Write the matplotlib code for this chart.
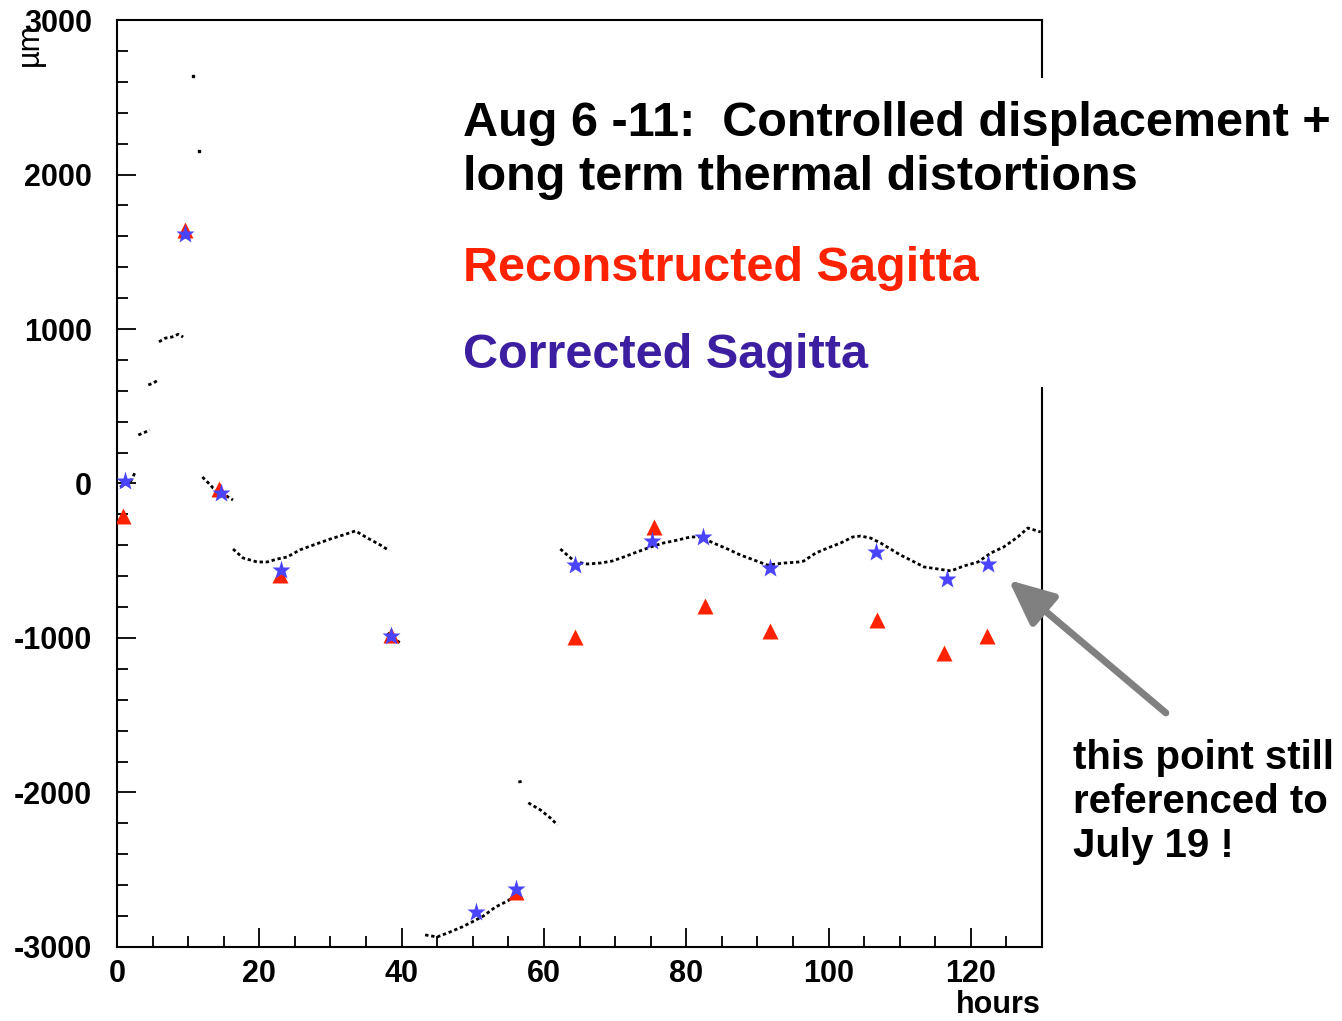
import numpy as np
import matplotlib.pyplot as plt
from matplotlib.patches import Rectangle
from matplotlib.ticker import MultipleLocator

plt.rcParams['font.family'] = ['Liberation Sans', 'DejaVu Sans']
plt.rcParams['axes.unicode_minus'] = False

# reconstructed sagitta (red triangles)
reco_h = [0.8, 9.6, 14.3, 22.9, 38.5, 56.1, 64.3, 75.4, 82.6, 91.8, 106.8, 116.2, 122.2]
reco_v = [-210, 1640, -36, -592, -980, -2644, -994, -281, -793, -955, -884, -1097, -987]

# corrected sagitta (blue stars)
corr_h = [1.1, 9.6, 14.6, 23.1, 38.5, 50.5, 56.1, 64.4, 75.2, 82.3, 91.7, 106.7, 116.6, 122.4]
corr_v = [16, 1613, -61, -560, -987, -2773, -2625, -528, -372, -346, -547, -443, -618, -521]

# continuous monitoring (black dots), one list per segment
segments = [
    ([0.4, 1.1, 1.8, 2.5], [-23, -10, 3, 68]),
    ([3.0, 3.7, 4.6], [314, 327, 346]),
    ([4.4, 5.1, 5.8], [638, 650, 670]),
    ([5.9, 6.8, 7.7, 8.6, 9.3], [917, 941, 948, 966, 948]),
    ([12.0, 12.7, 13.5, 14.8, 15.6, 16.3], [42, 10, -29, -61, -87, -107]),
    ([16.3, 17.7, 19.7, 21.1, 22.5, 23.9, 25.7, 27.6, 30.0, 31.8, 33.5, 35.2, 37.0, 38.1],
     [-424, -482, -508, -508, -489, -476, -430, -398, -359, -333, -307, -353, -398, -430]),
    ([38.0, 38.8, 39.8], [-968, -1000, -1032]),
    ([43.3, 45.0, 46.8, 48.5, 49.9, 51.5, 53.2, 54.9, 55.7],
     [-2922, -2935, -2903, -2870, -2838, -2799, -2741, -2702, -2676]),
    ([56.4, 57.2], [-1932, -1926]),
    ([57.8, 59.5, 60.9, 61.9], [-2067, -2113, -2165, -2210]),
    ([62.3, 64.4, 66.1, 67.9, 69.6, 71.2, 73.1, 75.0, 76.8, 78.8, 80.6, 82.0, 83.8, 85.8,
      87.6, 89.5, 91.4, 93.7, 95.8, 96.5, 98.2, 99.9, 101.7, 103.4, 104.5, 105.9, 107.3,
      108.7, 110.1, 111.5, 113.4, 115.3, 117.2, 119.0, 121.0, 122.8, 124.6, 126.6, 128.0, 129.8],
     [-424, -508, -521, -515, -502, -476, -443, -411, -385, -366, -346, -346, -385, -424,
      -463, -495, -528, -515, -508, -502, -450, -417, -385, -346, -340, -353, -385,
      -424, -463, -495, -540, -553, -566, -534, -508, -450, -411, -346, -288, -314]),
]
single_h = [10.7, 11.5]
single_v = [2637, 2152]

fig = plt.figure(figsize=(13.42, 10.21), dpi=100)
ax = fig.add_axes([0.0872, 0.0725, 0.6893, 0.9079])

for h, v in segments:
    ax.plot(h, v, color='black', lw=2.0, ls=(0, (1.2, 1.0)))
ax.plot(single_h, single_v, 's', color='black', ms=2)

ax.plot(reco_h, reco_v, '^', color='#ff2200', ms=11, mec='none', zorder=3)
ax.plot(corr_h, corr_v, '*', color='#4a44ff', ms=14, mec='none', zorder=4)

ax.set_xlim(0, 130)
ax.set_ylim(-3000, 3000)
ax.xaxis.set_major_locator(MultipleLocator(20))
ax.xaxis.set_minor_locator(MultipleLocator(5))
ax.yaxis.set_major_locator(MultipleLocator(1000))
ax.yaxis.set_minor_locator(MultipleLocator(200))
ax.tick_params(which='both', direction='in', top=False, right=False, width=1.3)
ax.tick_params(which='major', length=14)
ax.tick_params(which='minor', length=8)
ax.tick_params(axis='x', labelsize=22, pad=9)
ax.tick_params(axis='y', labelsize=22, pad=18)
for lab in ax.get_xticklabels() + ax.get_yticklabels():
    lab.set_fontweight('bold')
for sp in ax.spines.values():
    sp.set_linewidth(1.5)

fig.text(30 / 1342, 1 - 45 / 1021, 'µm', rotation=90, ha='center', va='center', fontsize=22)
fig.text(998 / 1342, 1 - 1005 / 1021, 'hours', ha='center', va='center',
         fontsize=22, fontweight='bold')

# white box behind the title text
fig.patches.append(Rectangle((455 / 1342, 1 - 387 / 1021), (1342 - 455) / 1342, 309 / 1021,
                             transform=fig.transFigure, facecolor='white', edgecolor='none',
                             zorder=1))

fig.text(463 / 1342, 1 - 190 / 1021, 'Aug 6 -11:  Controlled displacement +\nlong term thermal distortions',
         ha='left', va='baseline', fontsize=35, fontweight='bold', linespacing=1.27, zorder=2)
fig.text(463 / 1342, 1 - 281 / 1021, 'Reconstructed Sagitta', ha='left', va='baseline',
         fontsize=35, fontweight='bold', color='#ff2200', zorder=2)
fig.text(463 / 1342, 1 - 368 / 1021, 'Corrected Sagitta', ha='left', va='baseline',
         fontsize=35, fontweight='bold', color='#3c1fa0', zorder=2)

fig.text(1073 / 1342, 1 - 857 / 1021, 'this point still\nreferenced to\nJuly 19 !',
         ha='left', va='baseline', fontsize=29, fontweight='bold', linespacing=1.2)

ax.annotate('', xy=(125.3, -625), xytext=(147.4, -1485), annotation_clip=False,
            arrowprops=dict(arrowstyle='-|>,head_length=1.1,head_width=0.5', color='#808080',
                            lw=5, mutation_scale=25, shrinkA=0, shrinkB=0))

fig.savefig('out.png', dpi=100)
